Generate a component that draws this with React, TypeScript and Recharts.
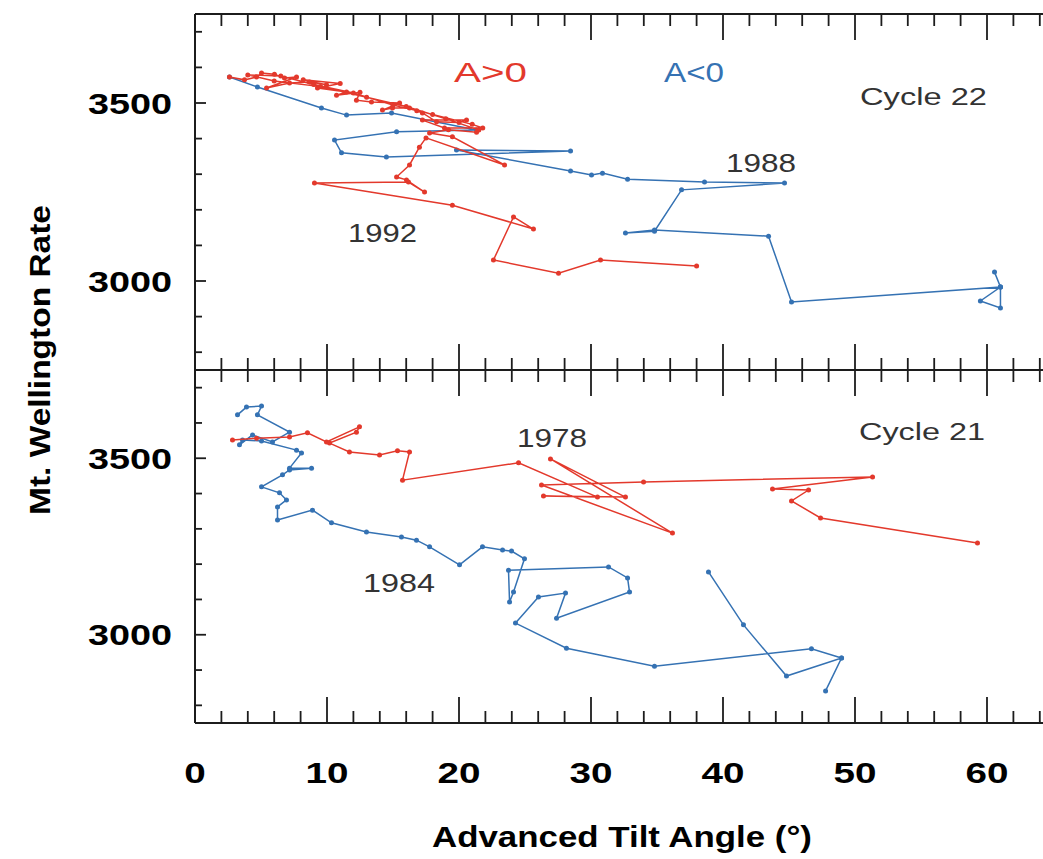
import React from 'react';
import { ScatterChart, Scatter, XAxis, YAxis } from 'recharts';

const RED = '#e3392c';
const BLUE = '#3572b3';
const INK = '#1c1c1c';
const GREY = '#333333';
const FONT = '"Liberation Sans", Arial, Helvetica, sans-serif';

// tick values
const xTicks = [0, 2, 4, 6, 8, 10, 12, 14, 16, 18, 20, 22, 24, 26, 28, 30, 32, 34, 36, 38, 40, 42, 44, 46, 48, 50, 52, 54, 56, 58, 60, 62, 64];
const xMajor = [0, 10, 20, 30, 40, 50, 60];
const yTicks = [2800, 2900, 3000, 3100, 3200, 3300, 3400, 3500, 3600, 3700];
const yMajor = [3000, 3500];
const xDomain = [0, 64.5];
const yDomain = [2750, 3750];

// Cycle 22 (upper panel): [tilt angle, rate]
const cycle22Neg = [
  [2.61, 3573], [4.73, 3545], [9.58, 3486], [11.48, 3466], [14.89, 3472], [21.33, 3424],
  [15.27, 3419], [10.57, 3396], [11.1, 3360], [14.5, 3348], [28.45, 3365], [19.81, 3368],
  [28.45, 3309], [30.04, 3298], [30.87, 3303], [32.77, 3286], [38.6, 3278], [44.66, 3275],
  [36.86, 3256], [34.81, 3140], [32.61, 3135], [34.81, 3143], [43.45, 3126], [45.19, 2941],
  [61.02, 2983], [60.57, 3025], [61.02, 2983], [59.5, 2944], [61.02, 2924], [61.02, 2983],
];
const cycle22Pos = [
  [2.61, 3573], [3.75, 3565], [4.66, 3573], [5.04, 3584], [6.02, 3581], [6.78, 3570],
  [7.69, 3573], [5.42, 3542], [7.16, 3556], [8.67, 3559], [9.96, 3551], [8.2, 3565],
  [11.0, 3555], [9.28, 3542], [11.48, 3531], [10.72, 3522], [12.5, 3530], [12.23, 3508],
  [13.37, 3503], [15.5, 3500], [14.2, 3480], [14.96, 3486], [16.25, 3486], [16.8, 3478],
  [17.23, 3472], [18.3, 3447], [20.0, 3445], [20.57, 3452], [17.23, 3452], [18.9, 3430],
  [21.8, 3430], [21.0, 3440], [18.0, 3468], [15.0, 3494], [12.0, 3528], [9.0, 3552],
  [6.5, 3576], [4.0, 3579], [6.0, 3562], [9.5, 3546], [13.0, 3516], [16.0, 3490],
  [19.0, 3456], [21.5, 3424],
  [21.33, 3418], [19.2, 3425], [17.77, 3416], [19.5, 3405], [23.45, 3326],
  [17.5, 3402], [17.0, 3376], [16.25, 3326], [15.27, 3292], [16.02, 3284], [17.39, 3250],
  [16.17, 3278], [9.05, 3275], [19.5, 3213], [25.64, 3146], [24.13, 3180], [22.61, 3059],
  [27.54, 3022], [30.72, 3059], [38.0, 3042],
];

// Cycle 21 (lower panel): [tilt angle, rate]
const cycle21Neg = [
  [3.22, 3623], [3.9, 3645], [5.04, 3648], [4.73, 3623], [7.16, 3574], [5.87, 3546],
  [4.36, 3566], [3.37, 3538], [3.6, 3552], [5.04, 3549], [7.69, 3523], [8.07, 3515],
  [7.16, 3472], [8.83, 3472], [7.16, 3467], [6.63, 3453], [5.04, 3419], [6.4, 3402],
  [6.93, 3382], [6.25, 3362], [6.25, 3325], [8.9, 3353], [10.34, 3317], [12.99, 3291],
  [15.64, 3277], [16.78, 3268], [17.77, 3249], [20.04, 3198], [21.78, 3249], [23.3, 3240],
  [23.98, 3237], [24.96, 3215], [24.13, 3121], [23.83, 3093], [23.75, 3183], [31.33, 3192],
  [32.77, 3161], [32.92, 3121], [27.39, 3047], [28.07, 3118], [26.02, 3107], [24.28, 3033],
  [28.14, 2962], [34.81, 2911], [46.7, 2960], [48.98, 2934], [47.77, 2841], [48.98, 2934],
  [44.81, 2883], [41.55, 3028], [38.9, 3178],
];
const cycle21Pos = [
  [2.84, 3552], [4.66, 3557], [7.16, 3560], [8.52, 3572], [9.96, 3546], [12.46, 3589],
  [12.23, 3574], [10.19, 3543], [11.7, 3518], [13.98, 3509], [15.34, 3521], [16.25, 3518],
  [15.72, 3438], [24.51, 3487], [30.49, 3390], [26.4, 3393], [32.61, 3390], [26.93, 3498],
  [36.17, 3288], [26.25, 3424], [33.98, 3433], [51.33, 3447], [43.75, 3413], [46.48, 3410],
  [45.19, 3379], [47.39, 3331], [59.28, 3260],
];

const toPoints = (arr: number[][]) => arr.map(([x, y]) => ({ x, y }));

const XTick = (props: any) => {
  const { x, y, payload, dir, showLabel } = props;
  const v = payload.value;
  const major = v % 10 === 0;
  const len = major ? 26 : 12;
  const digits = String(v).length;
  return (
    <g>
      <line x1={x} x2={x} y1={y} y2={y + dir * len} stroke={INK} strokeWidth={1.8} />
      {showLabel && xMajor.includes(v) && (
        <text x={x} y={y + 60} textAnchor="middle" fontFamily={FONT} fontWeight="bold"
          fontSize={30} fill="#000" textLength={digits * 21.5} lengthAdjust="spacingAndGlyphs">{v}</text>
      )}
    </g>
  );
};

const YTick = (props: any) => {
  const { x, y, payload } = props;
  const v = payload.value;
  const major = yMajor.includes(v);
  const len = major ? 11 : 7;
  return (
    <g>
      <line x1={x} x2={x + len} y1={y} y2={y} stroke={INK} strokeWidth={1.8} />
      {major && (
        <text x={x - 23} y={y + 10.5} textAnchor="end" fontFamily={FONT} fontWeight="bold"
          fontSize={30} fill="#000" textLength={84} lengthAdjust="spacingAndGlyphs">{v}</text>
      )}
    </g>
  );
};

const dot = (color: string) => (p: any) => <circle cx={p.cx} cy={p.cy} r={2.5} fill={color} />;

function Panel(props: any) {
  const { top, height, topAxisH, bottomAxisH, neg, pos, showXLabels } = props;
  return (
    <div style={{ position: 'absolute', left: 0, top }}>
      <ScatterChart width={1060} height={height} margin={{ top: 0, right: 13.6, bottom: 0, left: 0 }}>
        <XAxis xAxisId="t" orientation="top" type="number" dataKey="x" domain={xDomain} ticks={xTicks}
          interval={0} height={topAxisH} tickSize={0} tickMargin={0} tickLine={false} allowDataOverflow
          axisLine={{ stroke: INK, strokeWidth: 2 }} tick={(p: any) => <XTick {...p} dir={1} showLabel={false} />} />
        <XAxis xAxisId="b" orientation="bottom" type="number" dataKey="x" domain={xDomain} ticks={xTicks}
          interval={0} height={bottomAxisH} tickSize={0} tickMargin={0} tickLine={false} allowDataOverflow
          axisLine={{ stroke: INK, strokeWidth: 2 }} tick={(p: any) => <XTick {...p} dir={-1} showLabel={showXLabels} />} />
        <YAxis yAxisId="l" type="number" dataKey="y" domain={yDomain} ticks={yTicks} interval={0} width={195}
          tickSize={0} tickMargin={0} tickLine={false} allowDataOverflow
          axisLine={{ stroke: INK, strokeWidth: 2 }} tick={(p: any) => <YTick {...p} />} />
        <Scatter xAxisId="b" yAxisId="l" data={toPoints(neg)} line={{ stroke: BLUE, strokeWidth: 1.5 }}
          lineType="joint" shape={dot(BLUE)} isAnimationActive={false} />
        <Scatter xAxisId="b" yAxisId="l" data={toPoints(pos)} line={{ stroke: RED, strokeWidth: 1.5 }}
          lineType="joint" shape={dot(RED)} isAnimationActive={false} />
      </ScatterChart>
    </div>
  );
}

const Label = (p: any) => (
  <text x={p.x} y={p.y} fontFamily={FONT} fontSize={p.size || 25} fill={p.fill || GREY}
    textLength={p.len} lengthAdjust="spacingAndGlyphs" textAnchor="start">{p.children}</text>
);

export default function App() {
  return (
    <div style={{ position: 'absolute', left: 0, top: 0, width: 1043, height: 859, overflow: 'hidden', background: '#fff' }}>
      <Panel top={0} height={380} topAxisH={14} bottomAxisH={10} neg={cycle22Neg} pos={cycle22Pos} showXLabels={false} />
      <Panel top={360} height={499} topAxisH={10} bottomAxisH={136} neg={cycle21Neg} pos={cycle21Pos} showXLabels={true} />
      <svg width={1043} height={859} style={{ position: 'absolute', left: 0, top: 0, pointerEvents: 'none' }}>
        <Label x={454} y={82} size={27} len={73} fill={RED}>A&gt;0</Label>
        <Label x={664} y={82} size={27} len={60} fill={BLUE}>A&lt;0</Label>
        <Label x={860} y={105} size={23} len={127}>Cycle 22</Label>
        <Label x={726} y={172} size={25} len={70}>1988</Label>
        <Label x={348} y={242} size={25} len={69}>1992</Label>
        <Label x={859} y={440} size={23} len={126}>Cycle 21</Label>
        <Label x={517} y={447} size={25} len={70}>1978</Label>
        <Label x={363} y={592} size={25} len={72}>1984</Label>
        <text transform="translate(50,360) rotate(-90)" textAnchor="middle" fontFamily={FONT} fontWeight="bold"
          fontSize={29} fill="#000" textLength={310} lengthAdjust="spacingAndGlyphs">Mt. Wellington Rate</text>
        <text x={622} y={847} textAnchor="middle" fontFamily={FONT} fontWeight="bold" fontSize={29} fill="#000"
          textLength={380} lengthAdjust="spacingAndGlyphs">Advanced Tilt Angle (°)</text>
      </svg>
    </div>
  );
}
